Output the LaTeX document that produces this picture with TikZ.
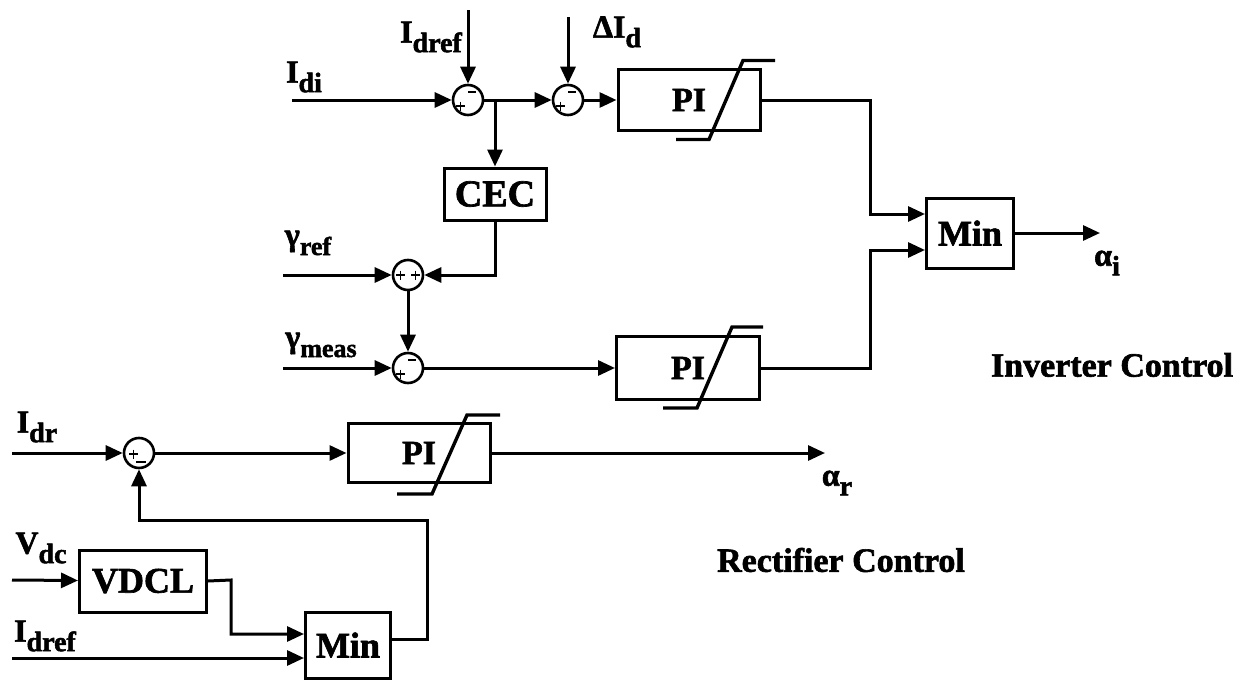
\documentclass[tikz,border=0pt]{standalone}
\usepackage{fontspec}
\setmainfont{Liberation Serif}[BoldFeatures={FakeBold=1.8}]
\usetikzlibrary{arrows.meta}
\newcommand{\sg}[3][28]{#2\raisebox{-0.3em}{\fontsize{#1}{#1}\selectfont #3}}
\begin{document}
\begin{tikzpicture}[x=1pt,y=-1pt,line width=3pt,
  arr/.style={-{Triangle[length=17pt,width=15pt]}},
  sum/.style={circle,draw,line width=2.6pt,minimum size=30pt,inner sep=0pt},
  blk/.style={draw,inner sep=0pt,font=\fontsize{36}{36}\selectfont\bfseries},
  piblk/.style={blk,font=\fontsize{34}{34}\selectfont\bfseries},
  lab/.style={inner sep=0pt,font=\fontsize{32}{32}\selectfont\bfseries},
  big/.style={inner sep=0pt,font=\fontsize{34}{34}\selectfont\bfseries},
  sgn/.style={line width=1.8pt},
  sat/.style={line width=3.4pt}]
\useasboundingbox (0,0) rectangle (1243,680);

% summing junctions
\node[sum] (s1) at (468,100) {};
\node[sum] (s2) at (568,100) {};
\node[sum] (s3) at (408,275) {};
\node[sum] (s4) at (408,368) {};
\node[sum] (s5) at (139,453) {};

% blocks
\node[piblk,minimum width=142pt,minimum height=61pt] (pi1) at (689,100) {PI};
\node[piblk,minimum width=143pt,minimum height=63pt] (pi2) at (688,368) {PI};
\node[piblk,minimum width=142pt,minimum height=59pt] (pi3) at (419,453) {PI};
\node[blk,minimum width=102pt,minimum height=52pt,font=\fontsize{38}{38}\selectfont\bfseries] (cec) at (495,194) {CEC};
\node[blk,minimum width=87pt,minimum height=70pt] (min1) at (970,233) {Min};
\node[blk,minimum width=127pt,minimum height=62pt] (vdcl) at (143,581) {VDCL};
\node[blk,minimum width=85pt,minimum height=66pt] (min2) at (348,645) {Min};

% saturation symbols
\draw[sat,shift={(pi1.center)}] (-13,39.5) -- (20,39.5) -- (54,-39.5) -- (86,-39.5);
\draw[sat,shift={(pi2.center)}] (-25,40) -- (9,40) -- (44,-41) -- (75,-41);
\draw[sat,shift={(pi3.center)}] (-22,41) -- (13,41) -- (48,-38) -- (81,-38);

% signs
\draw[sgn,shift={(s1.center)}] (-12,6) -- (-3,6) (-7.5,1.5) -- (-7.5,10.5) (0,-8) -- (8,-8);
\draw[sgn,shift={(s2.center)}] (-12,6) -- (-3,6) (-7.5,1.5) -- (-7.5,10.5) (0,-8) -- (8,-8);
\draw[sgn,shift={(s4.center)}] (-12,6) -- (-3,6) (-7.5,1.5) -- (-7.5,10.5) (0,-8) -- (8,-8);
\draw[sgn,shift={(s3.center)}] (-12,0) -- (-3,0) (-7.5,-4.5) -- (-7.5,4.5) (3,0) -- (12,0) (7.5,-4.5) -- (7.5,4.5);
\draw[sgn,shift={(s5.center)}] (-10,1) -- (-1,1) (-5.5,-3.5) -- (-5.5,5.5) (-3,9) -- (7,9);

% free ends
\coordinate (idi) at (292,100);
\coordinate (idreft) at (468,10);
\coordinate (dId) at (568,17);
\coordinate (b1) at (495,100);
\coordinate (c1) at (870,100);
\coordinate (c2) at (870,368);
\coordinate (ai) at (1100,233);
\coordinate (gref) at (283,275);
\coordinate (gmeas) at (283,368);
\coordinate (idr) at (12,453);
\coordinate (ar) at (825,453);
\coordinate (f1) at (427,520);
\coordinate (vdc) at (12,580);
\coordinate (v1) at (231,580);
\coordinate (idrefb) at (12,658);

% connectors
\draw[arr] (idi) -- (s1);
\draw[arr] (idreft) -- (s1);
\draw[arr] (s1) -- (s2);
\draw[arr] (b1) -- (cec.north);
\draw[arr] (dId) -- (s2);
\draw[arr] (s2) -- (pi1);
\draw[arr] (pi1.east) -- (c1) |- ([yshift=19pt]min1.west);
\draw[arr] (pi2.east) -- (c2) |- ([yshift=-17pt]min1.west);
\draw[arr] (min1) -- (ai);
\draw[arr] (cec.south) |- (s3);
\draw[arr] (gref) -- (s3);
\draw[arr] (s3) -- (s4);
\draw[arr] (gmeas) -- (s4);
\draw[arr] (s4) -- (pi2);
\draw[arr] (idr) -- (s5);
\draw[arr] (s5) -- (pi3);
\draw[arr] (pi3) -- (ar);
\draw[arr] ([yshift=6pt]min2.east) -| (f1) -| (s5);
\draw[arr] (vdc) -- (vdcl);
\draw[arr] (vdcl.east) -- (v1) |- ([yshift=11pt]min2.west);
\draw[arr] (idrefb) -- ([yshift=-13pt]min2.west);

% labels
\node[lab] (lidi) at (304,77) {\sg{I}{di}};
\node[lab] (lidref) at (431,37) {\sg{I}{dref}};
\node[lab] (ldid) at (617,32) {ΔI\raisebox{-0.3em}{\fontsize{28}{28}\selectfont d}};
\node[lab] (lgref) at (308,243) {\sg[26]{γ}{ref}};
\node[lab] (lgmeas) at (321,345) {\sg[26]{γ}{meas}};
\node[lab] (lai) at (1107,263) {\sg{α}{i}};
\node[lab] (lidr) at (37,427) {\sg{I}{dr}};
\node[lab] (lvdc) at (41,548) {\sg{V}{dc}};
\node[lab] (lidrefb) at (45,636) {\sg{I}{dref}};
\node[lab] (lar) at (837,483) {\sg{α}{r}};
\node[big] (inv) at (1112,365) {Inverter Control};
\node[big] (rect) at (841,560) {Rectifier Control};
\end{tikzpicture}
\end{document}
